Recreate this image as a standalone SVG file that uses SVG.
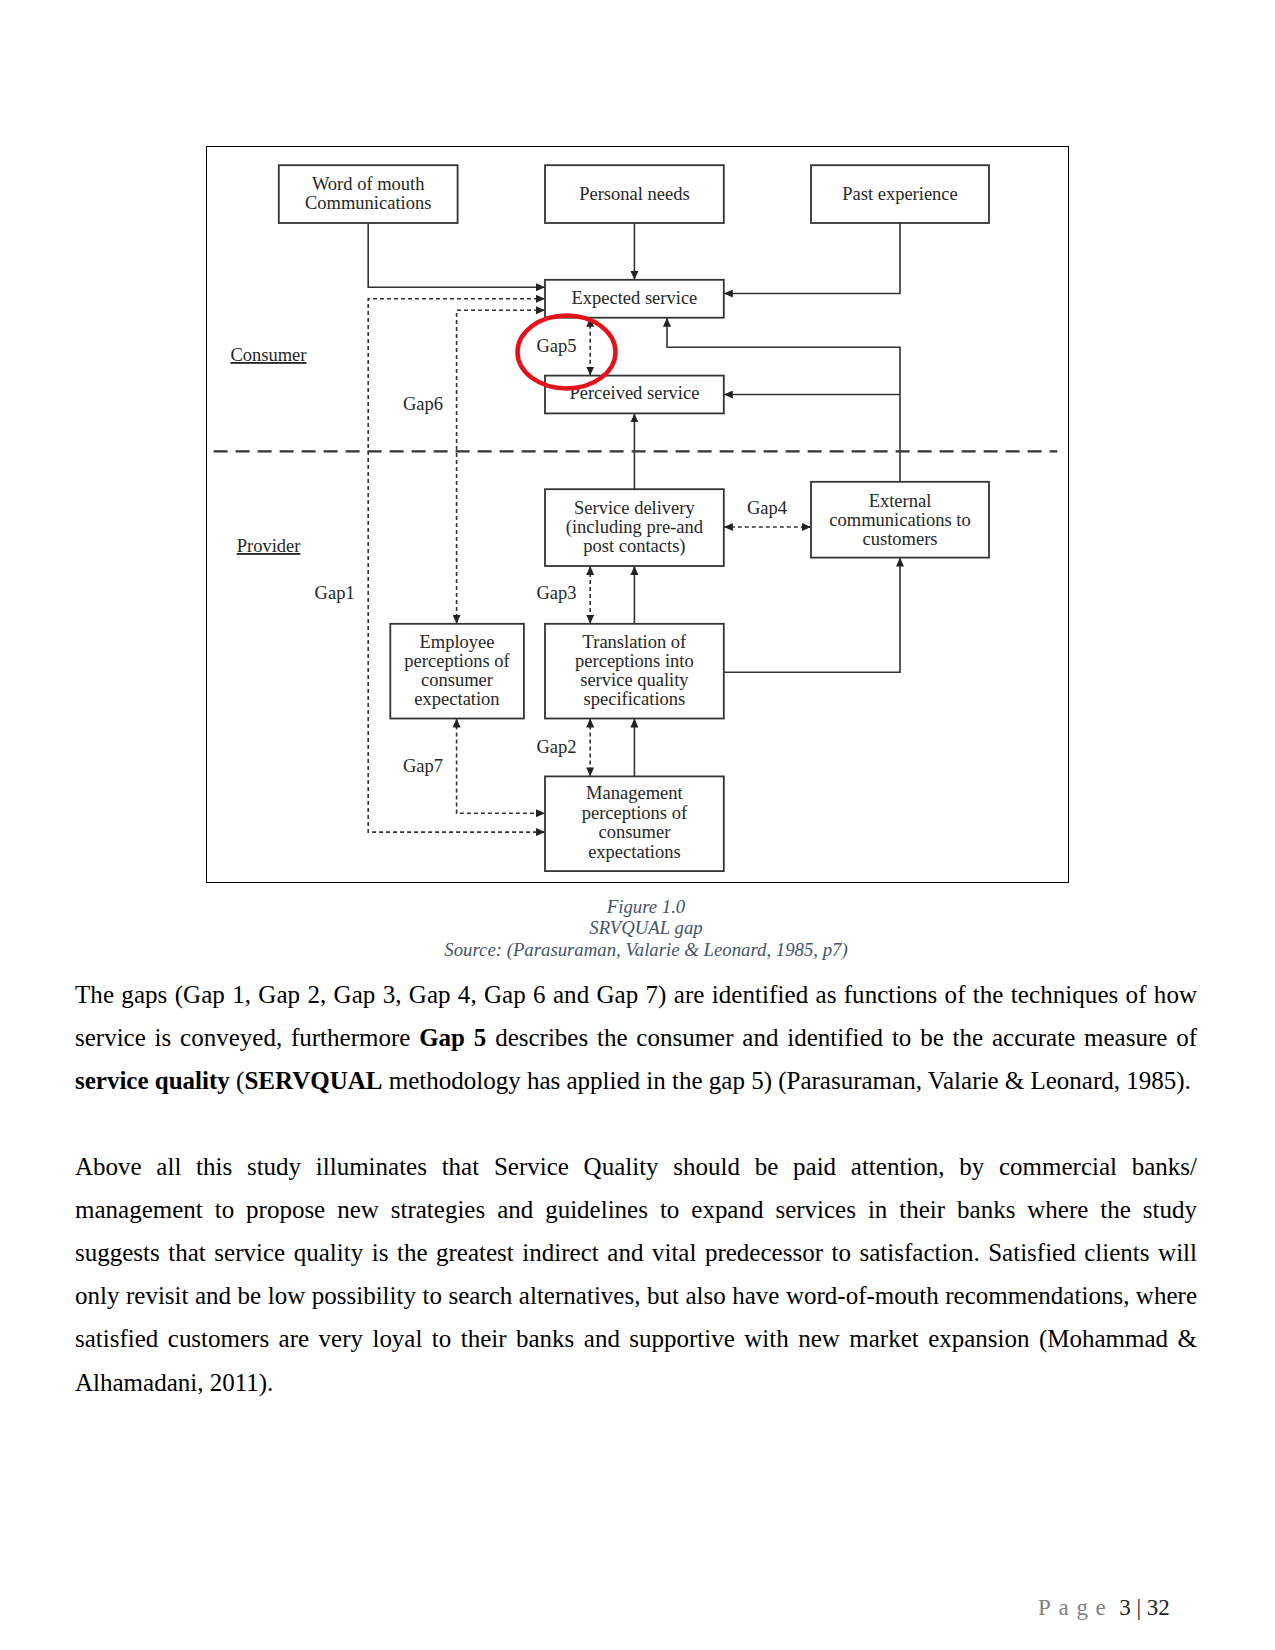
<svg xmlns="http://www.w3.org/2000/svg" width="1275" height="1650" viewBox="0 0 1275 1650">
<style>
.box{fill:#fff;stroke:#333;stroke-width:1.8}
.t{font-family:"Liberation Serif","Times New Roman",serif;font-size:18.5px;fill:#262626;text-anchor:middle}
.l{font-family:"Liberation Serif","Times New Roman",serif;font-size:18.5px;fill:#262626}
.c{fill:none;stroke:#333;stroke-width:1.6}
.d{stroke-dasharray:4 3}
.body{font-family:"Liberation Serif","Times New Roman",serif;font-size:25px;fill:#000}
.cap{font-family:"Liberation Serif","Times New Roman",serif;font-size:18.75px;font-style:italic;fill:#44546a;text-anchor:middle}
</style>
<defs>
<marker id="ah" markerUnits="userSpaceOnUse" markerWidth="9" markerHeight="8" refX="9" refY="4" orient="auto-start-reverse">
<path d="M0,0 L9,4 L0,8 z" fill="#222"/>
</marker>
</defs>
<rect x="0" y="0" width="1275" height="1650" fill="#fff"/>
<rect x="206.5" y="146.5" width="862" height="736" fill="none" stroke="#000" stroke-width="1"/>

<g id="connectors">
<line x1="213.6" y1="451.3" x2="1057.3" y2="451.3" stroke="#333" stroke-width="2.2" stroke-dasharray="14 8"/>
<path class="c" d="M368.2,223 V287.2 H545" marker-end="url(#ah)"/>
<path class="c" d="M634.4,223 V279.8" marker-end="url(#ah)"/>
<path class="c" d="M900,223 V293.5 H723.8" marker-end="url(#ah)"/>
<path class="c" d="M900,481.8 V347.2 H667 V317.7" marker-end="url(#ah)"/>
<path class="c" d="M900,394.5 H723.8" marker-end="url(#ah)"/>
<path class="c" d="M634.4,489.2 V413.4" marker-end="url(#ah)"/>
<path class="c" d="M634.4,623.8 V566" marker-end="url(#ah)"/>
<path class="c" d="M634.4,776.4 V718.5" marker-end="url(#ah)"/>
<path class="c" d="M723.8,672.2 H900 V557.6" marker-end="url(#ah)"/>
<path class="c d" d="M545,298.8 H368.2 V832.1 H545" marker-start="url(#ah)" marker-end="url(#ah)"/>
<path class="c d" d="M545,310.3 H456.6 V623.8" marker-start="url(#ah)" marker-end="url(#ah)"/>
<path class="c d" d="M456.6,718.5 V813.2 H545" marker-start="url(#ah)" marker-end="url(#ah)"/>
<path class="c d" d="M590.2,317.7 V375.6" marker-start="url(#ah)" marker-end="url(#ah)"/>
<path class="c d" d="M590.2,566 V623.8" marker-start="url(#ah)" marker-end="url(#ah)"/>
<path class="c d" d="M590.2,718.5 V776.4" marker-start="url(#ah)" marker-end="url(#ah)"/>
<path class="c d" d="M723.8,527 H811" marker-start="url(#ah)" marker-end="url(#ah)"/>
</g>

<g id="word-of-mouth"><rect class="box" x="278.8" y="165.2" width="178.8" height="57.8"/>
<text class="t" x="368.2" y="190">Word of mouth</text><text class="t" x="368.2" y="209">Communications</text></g>
<g id="personal-needs"><rect class="box" x="545" y="165.2" width="178.8" height="57.8"/>
<text class="t" x="634.4" y="199.5">Personal needs</text></g>
<g id="past-experience"><rect class="box" x="811" y="165.2" width="178" height="57.8"/>
<text class="t" x="900" y="199.5">Past experience</text></g>
<g id="expected-service"><rect class="box" x="545" y="279.8" width="178.8" height="37.9"/>
<text class="t" x="634.4" y="303.5">Expected service</text></g>
<g id="perceived-service"><rect class="box" x="545" y="375.6" width="178.8" height="37.8"/>
<text class="t" x="634.4" y="399">Perceived service</text></g>
<g id="service-delivery"><rect class="box" x="545" y="489.2" width="178.8" height="76.8"/>
<text class="t" x="634.4" y="514">Service delivery</text><text class="t" x="634.4" y="533">(including pre-and</text><text class="t" x="634.4" y="552">post contacts)</text></g>
<g id="external-communications"><rect class="box" x="811" y="481.8" width="178" height="75.8"/>
<text class="t" x="900" y="506.5">External</text><text class="t" x="900" y="525.5">communications to</text><text class="t" x="900" y="544.5">customers</text></g>
<g id="employee-perceptions"><rect class="box" x="390.3" y="623.8" width="133.6" height="94.7"/>
<text class="t" x="457" y="647.5">Employee</text><text class="t" x="457" y="666.5">perceptions of</text><text class="t" x="457" y="685.5">consumer</text><text class="t" x="457" y="705">expectation</text></g>
<g id="translation"><rect class="box" x="545" y="623.8" width="178.8" height="94.7"/>
<text class="t" x="634.4" y="647.5">Translation of</text><text class="t" x="634.4" y="666.5">perceptions into</text><text class="t" x="634.4" y="685.5">service quality</text><text class="t" x="634.4" y="705">specifications</text></g>
<g id="management-perceptions"><rect class="box" x="545" y="776.4" width="178.8" height="94.7"/>
<text class="t" x="634.4" y="799">Management</text><text class="t" x="634.4" y="818.5">perceptions of</text><text class="t" x="634.4" y="838">consumer</text><text class="t" x="634.4" y="857.5">expectations</text></g>

<g id="labels">
<text class="l" x="230.4" y="361" text-decoration="underline">Consumer</text>
<text class="l" x="236.7" y="552" text-decoration="underline">Provider</text>
<text class="l" x="403" y="410">Gap6</text>
<text class="l" x="536.5" y="352">Gap5</text>
<text class="l" x="314.6" y="599">Gap1</text>
<text class="l" x="536.5" y="599">Gap3</text>
<text class="l" x="747" y="514">Gap4</text>
<text class="l" x="536.5" y="753">Gap2</text>
<text class="l" x="403" y="772">Gap7</text>
</g>
<ellipse cx="566.5" cy="352" rx="49" ry="36.5" fill="none" stroke="#e3131b" stroke-width="4.5"/>

<g id="caption">
<text class="cap" x="646" y="912.5">Figure 1.0</text>
<text class="cap" x="646" y="934">SRVQUAL gap</text>
<text class="cap" x="646" y="955.5">Source: (Parasuraman, Valarie &amp; Leonard, 1985, p7)</text>
</g>

<g id="body">
<text class="body" x="75" y="1002.5" word-spacing="0.927" textLength="1122" lengthAdjust="spacing">The gaps (Gap 1, Gap 2, Gap 3, Gap 4, Gap 6 and Gap 7) are identified as functions of the techniques of how</text>
<text class="body" x="75" y="1045.6" word-spacing="2.564" textLength="1122" lengthAdjust="spacing">service is conveyed, furthermore <tspan font-weight="bold">Gap 5</tspan> describes the consumer and identified to be the accurate measure of</text>
<text class="body" x="75" y="1088.7"><tspan font-weight="bold">service quality</tspan> (<tspan font-weight="bold">SERVQUAL</tspan> methodology has applied in the gap 5) (Parasuraman, Valarie &amp; Leonard, 1985).</text>
<text class="body" x="75" y="1175" word-spacing="8.471" textLength="1122" lengthAdjust="spacing">Above all this study illuminates that Service Quality should be paid attention, by commercial banks/</text>
<text class="body" x="75" y="1218.1" word-spacing="5.693" textLength="1122" lengthAdjust="spacing">management to propose new strategies and guidelines to expand services in their banks where the study</text>
<text class="body" x="75" y="1261.2" word-spacing="2.307" textLength="1122" lengthAdjust="spacing">suggests that service quality is the greatest indirect and vital predecessor to satisfaction. Satisfied clients will</text>
<text class="body" x="75" y="1304.3" word-spacing="0.204" textLength="1122" lengthAdjust="spacing">only revisit and be low possibility to search alternatives, but also have word-of-mouth recommendations, where</text>
<text class="body" x="75" y="1347.4" word-spacing="3.19" textLength="1122" lengthAdjust="spacing">satisfied customers are very loyal to their banks and supportive with new market expansion (Mohammad &amp;</text>
<text class="body" x="75" y="1390.5">Alhamadani, 2011).</text>
</g>

<g id="footer">
<text x="1038" y="1615" font-family="Liberation Serif, serif" font-size="23"><tspan fill="#7f7f7f" letter-spacing="7.7">Page</tspan><tspan fill="#222"> 3 | 32</tspan></text>
</g>
</svg>
